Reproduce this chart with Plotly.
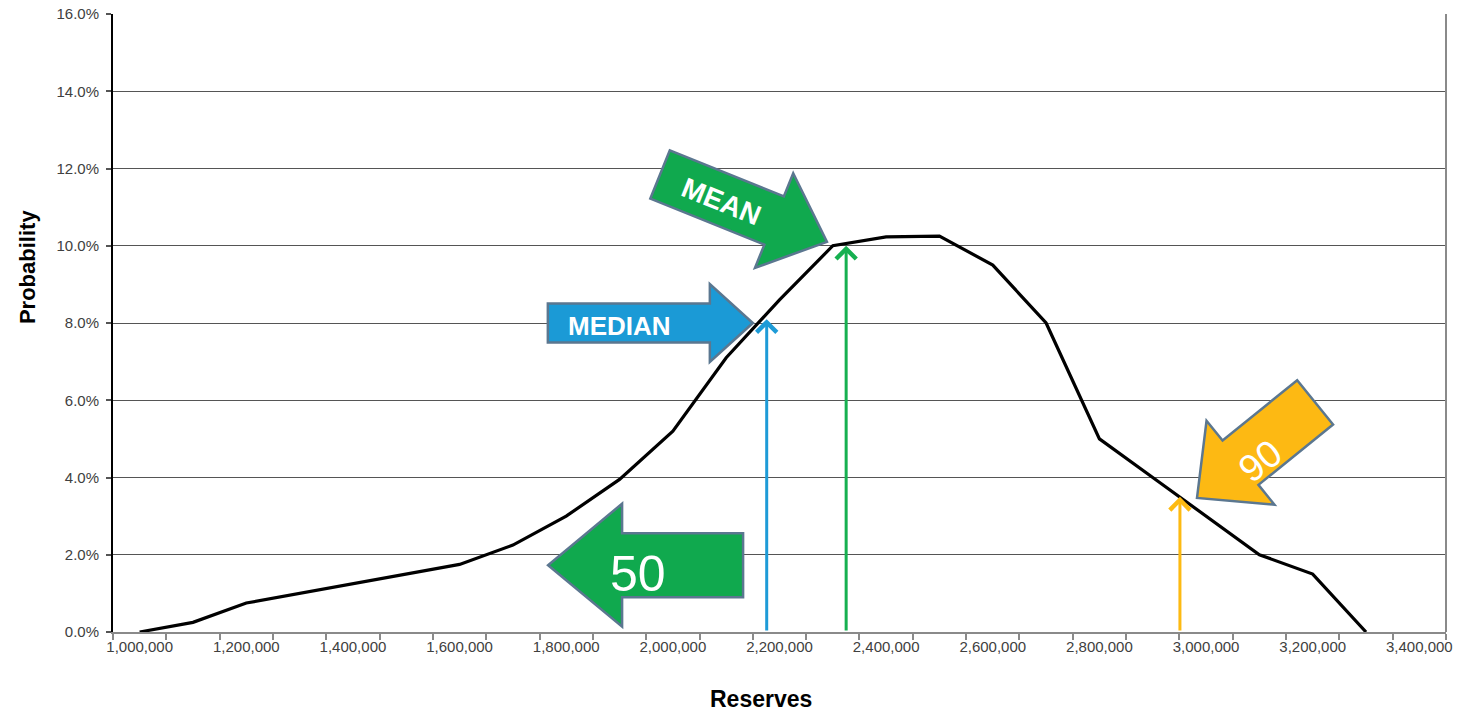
import numpy as np
import plotly.graph_objects as go

# Reserves distribution (probability in percent per 100,000 bin)
reserves = [1000000, 1100000, 1200000, 1300000, 1400000, 1500000, 1600000, 1700000,
            1800000, 1900000, 2000000, 2100000, 2200000, 2300000, 2400000, 2500000,
            2600000, 2700000, 2800000, 2900000, 3000000, 3100000, 3200000, 3300000]
probability = [0.0, 0.25, 0.75, 1.0, 1.25, 1.5, 1.75, 2.25,
               3.0, 3.95, 5.2, 7.1, 8.6, 10.0, 10.23, 10.25,
               9.5, 8.0, 5.0, 4.0, 3.0, 2.0, 1.5, 0.0]

x_tick_vals = [1000000 + 200000 * i for i in range(13)]
x_tick_text = [f"{v:,}" for v in x_tick_vals]
y_tick_vals = [0, 2, 4, 6, 8, 10, 12, 14, 16]
y_tick_text = [f"{v:.1f}%" for v in y_tick_vals]

# Statistic markers: (reserves, probability, colour)
marker_names = ["median", "mean", "p90"]
marker_x = [2176000, 2325000, 2951000]
marker_y = [8.1, 10.0, 3.5]
marker_colors = ["#1E9BD7", "#16B050", "#FDBA12"]

W, H = 1457, 712
ML, MR, MT, MB = 113, 11, 14, 80
X_RANGE = [950000, 3450000]
Y_RANGE = [0, 16]
PW, PH = W - ML - MR, H - MT - MB


def to_px(x, y):
    px = ML + (x - X_RANGE[0]) / (X_RANGE[1] - X_RANGE[0]) * PW
    py = MT + (Y_RANGE[1] - y) / (Y_RANGE[1] - Y_RANGE[0]) * PH
    return px, py


def to_data(px, py):
    x = X_RANGE[0] + (px - ML) / PW * (X_RANGE[1] - X_RANGE[0])
    y = Y_RANGE[1] - (py - MT) / PH * (Y_RANGE[1] - Y_RANGE[0])
    return x, y


def block_arrow(tip, angle, length, head_len, head_w, body_w):
    """Closed SVG path (data coords) for a block arrow whose tip is at `tip`."""
    tx, ty = to_px(*tip)
    a = np.radians(angle)
    ux, uy = np.cos(a), np.sin(a)
    vx, vy = -uy, ux
    local = [(0, 0), (-head_len, head_w / 2), (-head_len, body_w / 2),
             (-length, body_w / 2), (-length, -body_w / 2),
             (-head_len, -body_w / 2), (-head_len, -head_w / 2)]
    pts = [to_data(tx + u * ux + v * vx, ty + u * uy + v * vy) for u, v in local]
    return "M " + " L ".join(f"{x:.1f},{y:.4f}" for x, y in pts) + " Z"


def offset(tip, dx, dy):
    px, py = to_px(*tip)
    return to_data(px + dx, py + dy)


FONT = "Liberation Sans, Arial, sans-serif"
EDGE = "#5B7790"

# Call-out arrows: label, tip, direction, geometry, fill, text offset, font
callouts = [
    dict(text="MEDIAN", tip=(2150000, 8.0), angle=0, geo=(205, 43, 78, 39),
         fill="#1B9AD6", off=(-133, 3), size=26, bold=True, rot=0),
    dict(text="MEAN", tip=(2289000, 10.1), angle=22, geo=(180, 57, 102, 52),
         fill="#10A94E", off=(-106, -40), size=28, bold=True, rot=22),
    dict(text="50", tip=(1766000, 1.73), angle=180, geo=(195, 74, 123, 64),
         fill="#10A94E", off=(90, 9), size=50, bold=False, rot=0),
    dict(text="90", tip=(2983000, 3.47), angle=141, geo=(152, 56, 108, 57),
         fill="#FDB913", off=(63, -37), size=38, bold=False, rot=-38),
]

fig = go.Figure()
fig.add_trace(go.Scatter(x=reserves, y=probability, mode="lines",
                         line=dict(color="black", width=3.2),
                         hoverinfo="skip", showlegend=False))

shapes = [dict(type="line", xref="paper", yref="paper", x0=1, x1=1, y0=0, y1=1,
               line=dict(color="#8a8a8a", width=2))]
annotations = []
for c in callouts:
    shapes.append(dict(type="path", xref="x", yref="y", layer="above",
                       path=block_arrow(c["tip"], c["angle"], *c["geo"]),
                       fillcolor=c["fill"], line=dict(color=EDGE, width=2.5)))
    tx, ty = offset(c["tip"], *c["off"])
    label = f"<b>{c['text']}</b>" if c["bold"] else c["text"]
    annotations.append(dict(x=tx, y=ty, xref="x", yref="y", text=label,
                            showarrow=False, textangle=c["rot"],
                            font=dict(family=FONT, size=c["size"], color="white")))

for xv, yv, col in zip(marker_x, marker_y, marker_colors):
    annotations.append(dict(x=xv, y=yv, ax=xv, ay=0, xref="x", yref="y",
                            axref="x", ayref="y", text="", showarrow=True,
                            arrowhead=4, arrowsize=1.3, arrowwidth=3,
                            arrowcolor=col))

annotations.append(dict(text="<b>Probability</b>", xref="paper", yref="paper",
                        x=-0.064, y=0.59, xanchor="center", yanchor="middle",
                        textangle=-90, showarrow=False,
                        font=dict(family=FONT, size=22, color="black")))
annotations.append(dict(text="<b>Reserves</b>", xref="paper", yref="paper",
                        x=0.486, y=-0.108, xanchor="center", yanchor="middle",
                        showarrow=False,
                        font=dict(family=FONT, size=23, color="black")))

fig.update_layout(
    width=W, height=H,
    margin=dict(l=ML, r=MR, t=MT, b=MB, autoexpand=False),
    paper_bgcolor="white", plot_bgcolor="white",
    font=dict(family=FONT, color="#404040"),
    shapes=shapes, annotations=annotations,
    xaxis=dict(range=X_RANGE, tickvals=x_tick_vals, ticktext=x_tick_text,
               ticks="", showgrid=False, zeroline=False, automargin=False,
               showline=True, linecolor="#8a8a8a", linewidth=2,
               tickfont=dict(size=15, color="#404040"),
               minor=dict(tick0=950000, dtick=100000, ticks="outside",
                          ticklen=6, tickcolor="#8a8a8a", tickwidth=1.5,
                          showgrid=False)),
    yaxis=dict(range=Y_RANGE, tickvals=y_tick_vals, ticktext=y_tick_text,
               ticks="outside", ticklen=5, tickcolor="#555", automargin=False,
               ticklabelstandoff=4,
               tickwidth=1.5, showgrid=True, gridcolor="#555", gridwidth=1.2,
               zeroline=False, showline=True, linecolor="black", linewidth=2,
               tickfont=dict(size=15, color="#404040")),
)

fig.write_html("out.html")
